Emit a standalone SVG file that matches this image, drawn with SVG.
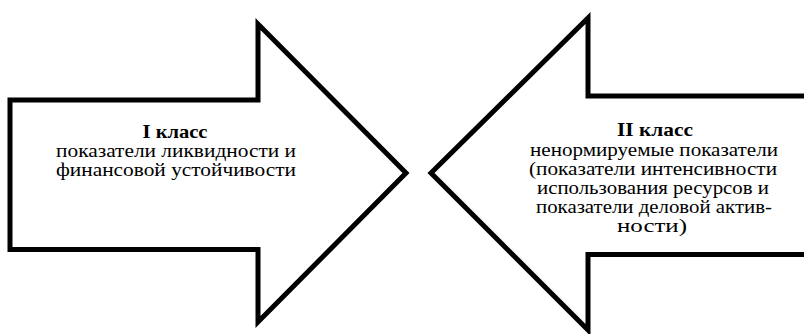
<svg xmlns="http://www.w3.org/2000/svg" width="804" height="334" viewBox="0 0 804 334">
<style>
.arrow{fill:#fff;stroke:#000;stroke-width:5;stroke-linejoin:miter;stroke-miterlimit:10}
.t{font-family:"Liberation Serif","Times New Roman",serif;font-size:19px;fill:#000;text-anchor:middle}
.b{font-weight:bold}
</style>
<rect width="804" height="334" fill="#fff"/>
<g id="class1">
<path class="arrow" d="M10,100 L258,100 L258,24 L406,173 L258,322 L258,249.5 L10,249.5 Z"/>
<text class="t b" x="175" y="138" textLength="65" lengthAdjust="spacingAndGlyphs">I класс</text>
<text class="t" x="176" y="157" textLength="240" lengthAdjust="spacingAndGlyphs">показатели ликвидности и</text>
<text class="t" x="176" y="176" textLength="240" lengthAdjust="spacingAndGlyphs">финансовой устойчивости</text>
</g>
<g id="class2">
<path class="arrow" d="M810,96 L588,96 L588,18 L431,173 L588,330 L588,254.5 L810,254.5"/>
<text class="t b" x="655" y="136" textLength="76" lengthAdjust="spacingAndGlyphs">II класс</text>
<text class="t" x="654" y="155.5" textLength="248" lengthAdjust="spacingAndGlyphs">ненормируемые показатели</text>
<text class="t" x="653" y="174.5" textLength="248" lengthAdjust="spacingAndGlyphs">(показатели интенсивности</text>
<text class="t" x="653" y="193.5" textLength="232" lengthAdjust="spacingAndGlyphs">использования ресурсов и</text>
<text class="t" x="654" y="212.5" textLength="236" lengthAdjust="spacingAndGlyphs">показатели деловой актив-</text>
<text class="t" x="652" y="231.5" textLength="70" lengthAdjust="spacingAndGlyphs">ности)</text>
</g>
<g id="connectors"/>
</svg>
